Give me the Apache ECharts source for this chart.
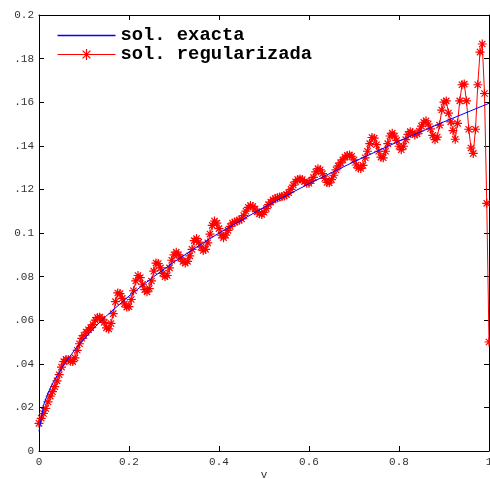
<!DOCTYPE html>
<html>
<head>
<meta charset="utf-8">
<script src="https://cdn.jsdelivr.net/npm/echarts@6/dist/echarts.min.js"></script>
<style>
  html, body { margin: 0; padding: 0; background: #fff; }
  #chart { width: 490px; height: 479px; }
</style>
</head>
<body>
<div id="chart"></div>
<script>
// Exact solution, sampled at a few points of v
const exactV   = [0, 0.01, 0.02, 0.03, 0.04, 0.06, 0.08, 0.1, 0.125, 0.15, 0.2, 0.25, 0.3, 0.35, 0.4, 0.5, 0.6, 0.7, 0.8, 0.9, 1.0];
const exactSol = [0.0090, 0.0210, 0.0265, 0.0309, 0.0346, 0.0410, 0.0465, 0.0514, 0.0570, 0.0620, 0.0711, 0.0792, 0.0867, 0.0935, 0.1000, 0.1118, 0.1226, 0.1327, 0.1421, 0.1510, 0.1595];

// Regularized solution on the uniform grid v = 0, 0.005, ..., 1
const regStep = 0.005;
const regSol = [
  0.0127, 0.0150, 0.0172, 0.0195, 0.0225, 0.0252, 0.0272, 0.0295, 0.0322, 0.0350,
  0.0385, 0.0410, 0.0420, 0.0420, 0.0412, 0.0410, 0.0427, 0.0462, 0.0492, 0.0517,
  0.0530, 0.0545, 0.0556, 0.0566, 0.0580, 0.0600, 0.0612, 0.0614, 0.0605, 0.0590,
  0.0565, 0.0560, 0.0585, 0.0630, 0.0685, 0.0725, 0.0722, 0.0700, 0.0675, 0.0660,
  0.0662, 0.0695, 0.0735, 0.0780, 0.0805, 0.0795, 0.0765, 0.0740, 0.0730, 0.0745,
  0.0780, 0.0825, 0.0862, 0.0860, 0.0840, 0.0815, 0.0800, 0.0805, 0.0840, 0.0875,
  0.0900, 0.0912, 0.0900, 0.0885, 0.0870, 0.0862, 0.0870, 0.0895, 0.0925, 0.0965,
  0.0975, 0.0958, 0.0935, 0.0920, 0.0925, 0.0955, 0.0995, 0.1035, 0.1055, 0.1045,
  0.1020, 0.0990, 0.0978, 0.0990, 0.1012, 0.1030, 0.1045, 0.1050, 0.1055, 0.1058,
  0.1065, 0.1080, 0.1100, 0.1118, 0.1126, 0.1122, 0.1110, 0.1098, 0.1088, 0.1085,
  0.1095, 0.1112, 0.1130, 0.1142, 0.1152, 0.1158, 0.1162, 0.1165, 0.1168, 0.1170,
  0.1176, 0.1185, 0.1200, 0.1220, 0.1235, 0.1245, 0.1248, 0.1245, 0.1235, 0.1228,
  0.1228, 0.1240, 0.1255, 0.1280, 0.1295, 0.1290, 0.1272, 0.1250, 0.1232, 0.1230,
  0.1245, 0.1265, 0.1290, 0.1308, 0.1322, 0.1335, 0.1348, 0.1356, 0.1358, 0.1352,
  0.1335, 0.1312, 0.1298, 0.1296, 0.1310, 0.1345, 0.1375, 0.1410, 0.1438, 0.1435,
  0.1405, 0.1375, 0.1348, 0.1345, 0.1375, 0.1410, 0.1445, 0.1458, 0.1445, 0.1425,
  0.1398, 0.1382, 0.1398, 0.1428, 0.1452, 0.1465, 0.1460, 0.1450, 0.1455, 0.1468,
  0.1490, 0.1508, 0.1515, 0.1500, 0.1478, 0.1448, 0.1428, 0.1440, 0.1495, 0.1564,
  0.1600, 0.1606, 0.1550, 0.1510, 0.1470, 0.1430, 0.1503, 0.1606, 0.1680, 0.1683,
  0.1606, 0.1476, 0.1390, 0.1365, 0.1476, 0.1680, 0.1830, 0.1867, 0.1640, 0.1136,
  0.0500
];

// Tick labels
const xTickLabels = ['0', '0.2', '0.4', '0.6', '0.8', '1'];
const yTickLabels = ['0', '.02', '.04', '.06', '.08', '0.1', '.12', '.14', '.16', '.18', '0.2'];

const exactData = exactV.map((v, i) => [v, exactSol[i]]);
const regData = regSol.map((y, i) => [+(i * regStep).toFixed(3), y]);

// eight-armed asterisk marker
const starPath = 'path://M0,-10L0,10M-10,0L10,0M-7,-7L7,7M-7,7L7,-7';
// plain horizontal stroke for the exact-solution legend entry
const lineIcon = 'path://M0,0L58,0L58,1.3L0,1.3Z';

const monoFont = '"Liberation Mono", "DejaVu Sans Mono", monospace';
const tickStyle = { show: true, inside: true, length: 5, lineStyle: { color: '#000', width: 1 } };
const lineStyleAxis = { show: true, onZero: false, lineStyle: { color: '#000', width: 1 } };

const chart = echarts.init(document.getElementById('chart'), null, { renderer: 'canvas' });
chart.setOption({
  animation: false,
  backgroundColor: '#fff',
  grid: { left: 39, top: 15, right: 1, bottom: 28, containLabel: false, outerBoundsMode: 'none' },
  legend: {
    data: [
      { name: 'sol. exacta', icon: lineIcon },
      {
        name: 'sol. regularizada',
        lineStyle: { color: '#ff0000', width: 1 },
        itemStyle: { color: '#ff0000', borderColor: '#ff0000', borderWidth: 1.2 }
      }
    ],
    orient: 'vertical',
    left: 57,
    top: 26,
    padding: 0,
    itemWidth: 58,
    itemHeight: 14,
    itemGap: 0,
    textStyle: { fontFamily: monoFont, fontWeight: 'bold', fontSize: 18.8, lineHeight: 14, color: '#000' }
  },
  xAxis: [
    {
      type: 'value', min: 0, max: 1, interval: 0.2, position: 'bottom',
      name: 'v', nameLocation: 'middle', nameGap: 19, nameMoveOverlap: false,
      nameTextStyle: { fontFamily: monoFont, fontSize: 11, color: '#333' },
      axisLine: lineStyleAxis, axisTick: tickStyle, splitLine: { show: false },
      axisLabel: {
        margin: 6, fontFamily: monoFont, fontSize: 11, color: '#333',
        formatter: (v) => xTickLabels[Math.round(v / 0.2)]
      }
    },
    {
      type: 'value', min: 0, max: 1, interval: 0.2, position: 'top',
      axisLine: lineStyleAxis, axisTick: tickStyle, splitLine: { show: false },
      axisLabel: { show: false }
    }
  ],
  yAxis: [
    {
      type: 'value', min: 0, max: 0.2, interval: 0.02, position: 'left',
      axisLine: lineStyleAxis, axisTick: tickStyle, splitLine: { show: false },
      axisLabel: {
        margin: 5, fontFamily: monoFont, fontSize: 11, color: '#333',
        formatter: (v) => yTickLabels[Math.round(v / 0.02)]
      }
    },
    {
      type: 'value', min: 0, max: 0.2, interval: 0.02, position: 'right',
      axisLine: lineStyleAxis, axisTick: tickStyle, splitLine: { show: false },
      axisLabel: { show: false }
    }
  ],
  series: [
    {
      name: 'sol. regularizada',
      type: 'line',
      data: regData,
      xAxisIndex: 0, yAxisIndex: 0,
      z: 2,
      symbol: starPath,
      symbolSize: 9,
      symbolKeepAspect: true,
      showAllSymbol: true,
      lineStyle: { color: '#ff0000', width: 1 },
      itemStyle: { color: '#ff0000', borderColor: '#ff0000', borderWidth: 1.2 },
      emphasis: { disabled: true }
    },
    {
      name: 'sol. exacta',
      type: 'line',
      data: exactData,
      xAxisIndex: 0, yAxisIndex: 0,
      z: 3,
      symbol: 'none',
      lineStyle: { color: '#0000ff', width: 1 },
      itemStyle: { color: '#0000ff' },
      emphasis: { disabled: true }
    }
  ]
});
</script>
</body>
</html>
